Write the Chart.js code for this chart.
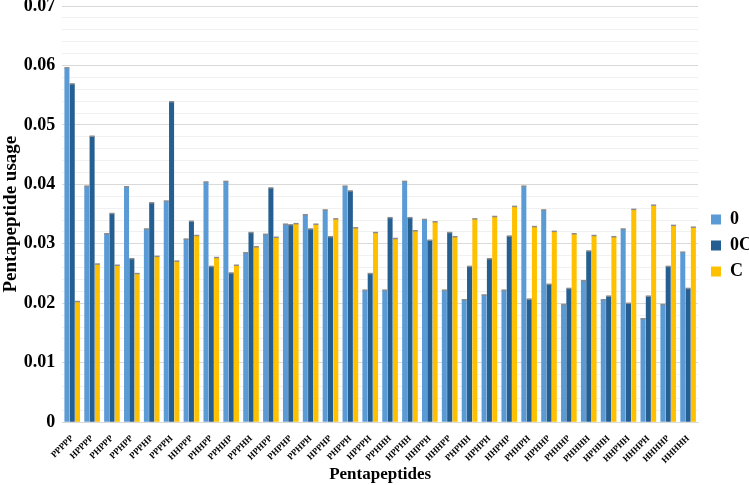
<!DOCTYPE html>
<html>
<head>
<meta charset="utf-8">
<script src="https://cdn.jsdelivr.net/npm/chart.js@4.4.0/dist/chart.umd.min.js"></script>
<style>
html,body{margin:0;padding:0;background:#fff;}
#wrap{width:749px;height:485px;}
</style>
</head>
<body>
<div id="wrap"><canvas id="c" width="749" height="485"></canvas></div>
<script>
const categories = ["PPPPP","HPPPP","PHPPP","PPHPP","PPPHP","PPPPH","HHPPP","PHHPP","PPHHP","PPPHH","HPHPP","PHPHP","PPHPH","HPPHP","PHPPH","HPPPH","PPHHH","HPPHH","HHPPH","HHHPP","PHPHH","HPHPH","HHPHP","PHHPH","HPHHP","PHHHP","PHHHH","HPHHH","HHPHH","HHHPH","HHHHP","HHHHH"];
const series0 = [0.0596,0.0397,0.0317,0.0396,0.0325,0.0372,0.0308,0.0404,0.0405,0.0285,0.0316,0.0333,0.0349,0.0357,0.0397,0.0222,0.0222,0.0405,0.0341,0.0222,0.0206,0.0214,0.0222,0.0397,0.0357,0.0198,0.0238,0.0206,0.0325,0.0174,0.0198,0.0286];
const series0C = [0.0569,0.0481,0.0351,0.0275,0.0369,0.0539,0.0338,0.0262,0.0251,0.0319,0.0394,0.0332,0.0325,0.0312,0.0389,0.0250,0.0344,0.0344,0.0306,0.0319,0.0262,0.0275,0.0313,0.0207,0.0232,0.0225,0.0288,0.0212,0.0200,0.0212,0.0262,0.0225];
const seriesC = [0.0203,0.0266,0.0264,0.0250,0.0279,0.0271,0.0314,0.0277,0.0264,0.0295,0.0311,0.0334,0.0333,0.0342,0.0327,0.0319,0.0309,0.0322,0.0337,0.0312,0.0342,0.0346,0.0363,0.0329,0.0321,0.0317,0.0314,0.0312,0.0358,0.0365,0.0331,0.0328];
const seriesNames = ["0","0C","C"];
const yTickLabels = ["0","0.01","0.02","0.03","0.04","0.05","0.06","0.07"];

const FONT = "'Liberation Serif','Times New Roman',serif";
const LEGEND_GAP = 5;

const capPlugin = {
  id: 'caps',
  beforeLayout(chart) {
    const lg = chart.legend;
    if (lg && !lg._wrappedFit) {
      const orig = lg.fit;
      lg.fit = function() { orig.call(this); this.width += LEGEND_GAP; };
      lg._wrappedFit = true;
    }
  },
  afterLayout(chart) {
    const lg = chart.legend;
    if (lg) { lg.left += LEGEND_GAP; lg.right += LEGEND_GAP; }
  },
  afterDatasetsDraw(chart) {
    const ctx = chart.ctx;
    ctx.save();
    ctx.strokeStyle = '#8c8c8c';
    ctx.lineWidth = 1.5;
    chart.data.datasets.forEach((ds, i) => {
      const meta = chart.getDatasetMeta(i);
      meta.data.forEach(el => {
        const w = el.width;
        ctx.beginPath();
        ctx.moveTo(el.x - w/2, el.y);
        ctx.lineTo(el.x + w/2, el.y);
        ctx.stroke();
      });
    });
    ctx.restore();
  }
};

new Chart(document.getElementById('c'), {
  type: 'bar',
  data: {
    labels: categories,
    datasets: [
      {label: seriesNames[0], data: series0, backgroundColor: '#5B9BD5'},
      {label: seriesNames[1], data: series0C, backgroundColor: '#255E91'},
      {label: seriesNames[2], data: seriesC, backgroundColor: '#FFC000'}
    ]
  },
  options: {
    responsive: false,
    animation: false,
    layout: {padding: {top: 6, right: -13, left: 0, bottom: 0}},
    datasets: {bar: {categoryPercentage: 0.8, barPercentage: 0.95}},
    plugins: {
      legend: {
        position: 'right',
        labels: {
          font: {family: FONT, size: 18, weight: 'bold'},
          color: '#000',
          boxWidth: 10, boxHeight: 10, padding: 8
        }
      },
      tooltip: {enabled: false}
    },
    scales: {
      x: {
        grid: {display: false},
        border: {color: '#d9d9d9'},
        afterFit: (s) => { s.height = s.height - 10; },
        ticks: {
          font: {family: FONT, size: 9, weight: 'bold'},
          color: '#000',
          minRotation: 45, maxRotation: 45, autoSkip: false, padding: 3
        },
        title: {display: true, text: 'Pentapeptides', font: {family: FONT, size: 17, weight: 'bold'}, color: '#000', padding: {top: 6, bottom: 0}}
      },
      y: {
        min: 0, max: 0.07,
        border: {display: false},
        afterFit: (s) => { s.paddingTop = 0; s.width = s.width - 8; },
        grid: {
          color: (c) => {
            const v = c.tick ? c.tick.value : 0;
            const k = Math.round(v * 1000);
            return (k % 10 === 0) ? '#d9d9d9' : '#f0f0f0';
          },
          drawTicks: false
        },
        ticks: {
          stepSize: 0.002, autoSkip: false,
          font: {family: FONT, size: 18, weight: 'bold'},
          color: '#000', padding: 7,
          callback: (v) => {
            const k = Math.round(v * 1000);
            if (k % 10 !== 0) return '';
            return yTickLabels[k / 10];
          }
        },
        title: {display: true, text: 'Pentapeptide usage', font: {family: FONT, size: 19, weight: 'bold'}, color: '#000', padding: {top: 0, bottom: 2}}
      }
    }
  },
  plugins: [capPlugin]
});
</script>
</body>
</html>
